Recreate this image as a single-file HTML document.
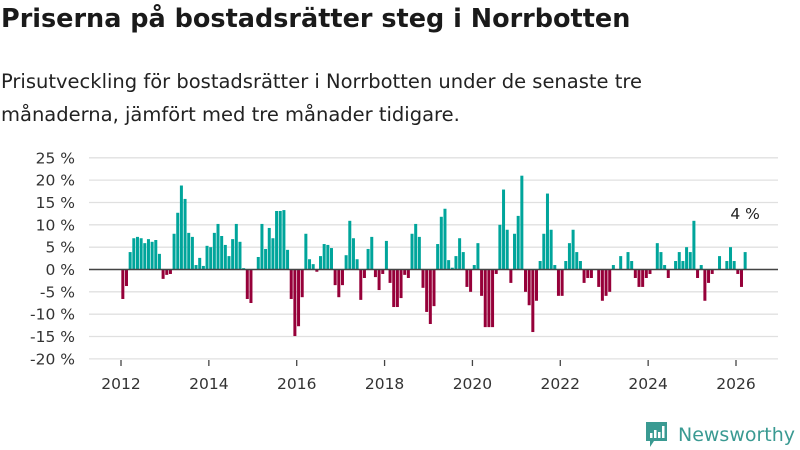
<!DOCTYPE html>
<html><head><meta charset="utf-8">
<style>
body{margin:0;background:#fff;width:800px;height:450px;overflow:hidden;font-family:"DejaVu Sans","Liberation Sans",sans-serif;}
#title{position:absolute;left:1px;top:4px;font-size:25.5px;font-weight:bold;color:#1a1a1a;margin:0;white-space:nowrap;}
#sub{position:absolute;left:1px;top:65px;font-size:19.5px;line-height:33px;color:#222;margin:0;width:660px;}
svg{position:absolute;left:0;top:0;}
</style></head><body>
<h1 id="title">Priserna på bostadsrätter steg i Norrbotten</h1>
<p id="sub">Prisutveckling för bostadsrätter i Norrbotten under de senaste tre månaderna, jämfört med tre månader tidigare.</p>
<svg id="chart" width="800" height="450" font-family="DejaVu Sans, sans-serif"></svg>
<script>
const startYear = 2012;
const yTicks = [25,20,15,10,5,0,-5,-10,-15,-20];
const xTickYears = [2012,2014,2016,2018,2020,2022,2024,2026];
const values = [
-6.6,-3.7,3.9,7.0,7.3,7.0,5.9,6.8,6.2,6.6,3.5,-2.1,
-1.2,-1.0,8.0,12.7,18.8,15.8,8.2,7.3,1.0,2.6,0.8,5.3,
5.0,8.2,10.2,7.5,5.5,3.0,6.8,10.2,6.2,0.3,-6.6,-7.5,
0,2.8,10.2,4.6,9.3,7.0,13.1,13.1,13.3,4.4,-6.6,-14.9,
-12.7,-6.2,8.0,2.3,1.2,-0.5,3.0,5.7,5.5,4.8,-3.5,-6.2,
-3.5,3.2,10.9,7.0,2.3,-6.8,-1.9,4.6,7.3,-1.7,-4.6,-1.0,
6.4,-3.0,-8.4,-8.4,-6.4,-1.2,-1.9,8.0,10.2,7.3,-4.1,-9.5,
-12.2,-8.2,5.7,11.8,13.6,2.1,0.4,3.0,7.0,3.9,-3.9,-5.0,
1.0,5.9,-5.9,-12.9,-12.9,-12.9,-1.0,10.0,17.9,8.9,-3.0,8.0,
12.0,21.0,-5.0,-8.0,-14.0,-7.0,1.9,8.0,17.0,8.9,1.0,-5.9,
-5.9,1.9,5.9,8.9,3.9,1.9,-3.0,-1.9,-1.9,0,-3.9,-7.0,
-5.9,-5.0,1.0,0,3.0,0,3.9,1.9,-1.9,-3.9,-3.9,-1.9,
-1.0,0,5.9,3.9,1.0,-1.9,0,1.9,3.9,1.9,5.0,3.9,
10.9,-1.9,1.0,-7.0,-3.0,-1.0,0,3.0,0,1.9,5.0,1.9,
-1.0,-3.9,3.9
];
const lastLabel = "4 %";
const NS="http://www.w3.org/2000/svg";
const svg=document.getElementById('chart');
const yScale=v=>269.5-v*4.467;
const xScale=m=>121+m*(615/168);
function mk(tag,attrs){const e=document.createElementNS(NS,tag);for(const k in attrs)e.setAttribute(k,attrs[k]);svg.appendChild(e);return e;}
yTicks.forEach(t=>{
  const g=mk('line',{x1:89,x2:778,y1:yScale(t),y2:yScale(t),stroke:'#e0e0e0','stroke-width':1.3});
  
  
  const tx=mk('text',{x:75,y:yScale(t)+5.5,'text-anchor':'end','font-size':15.5,fill:'#333'});
  tx.textContent=t+' %';
  
  
});
xTickYears.forEach(yr=>{
  const x=xScale((yr-startYear)*12);
  const l=mk('line',{x1:x,x2:x,y1:360,y2:366,stroke:'#444','stroke-width':1.3});
  
  
  const tx=mk('text',{x:x,y:389,'text-anchor':'middle','font-size':15.5,fill:'#333'});
  tx.textContent=yr;
  
  
});
values.forEach((v,i)=>{
  if(v===0)return;
  const xc=xScale(i+0.5);
  const y0=yScale(0),y1=yScale(v);
  const r=mk('rect',{x:xc-1.5,width:3,y:Math.min(y0,y1),height:Math.abs(y1-y0),fill:v>0?'#00a59b':'#960039'});
  
  
});
const z=mk('line',{x1:89,x2:778,y1:yScale(0),y2:yScale(0),stroke:'#444','stroke-width':1.6});


const li=values.length-1;
const lb=mk('text',{x:xScale(li+0.5),y:yScale(values[li])-33,'text-anchor':'middle','font-size':15.5,fill:'#222'});
lb.textContent=lastLabel;


</script>
<svg width="800" height="450" style="pointer-events:none">
<path d="M646 422h21v19h-13l-4 6v-6h-4z" fill="#3a9a92"/>
<rect x="650" y="433" width="2.5" height="5" fill="#fff"/><rect x="654" y="430" width="2.5" height="8" fill="#fff"/><rect x="658" y="432" width="2.5" height="6" fill="#fff"/><rect x="662" y="426" width="2.5" height="12" fill="#fff"/>
<text x="678" y="441" font-size="19" fill="#3a9a92" textLength="117" lengthAdjust="spacingAndGlyphs" font-family="DejaVu Sans, sans-serif">Newsworthy</text>
</svg>
</body></html>
